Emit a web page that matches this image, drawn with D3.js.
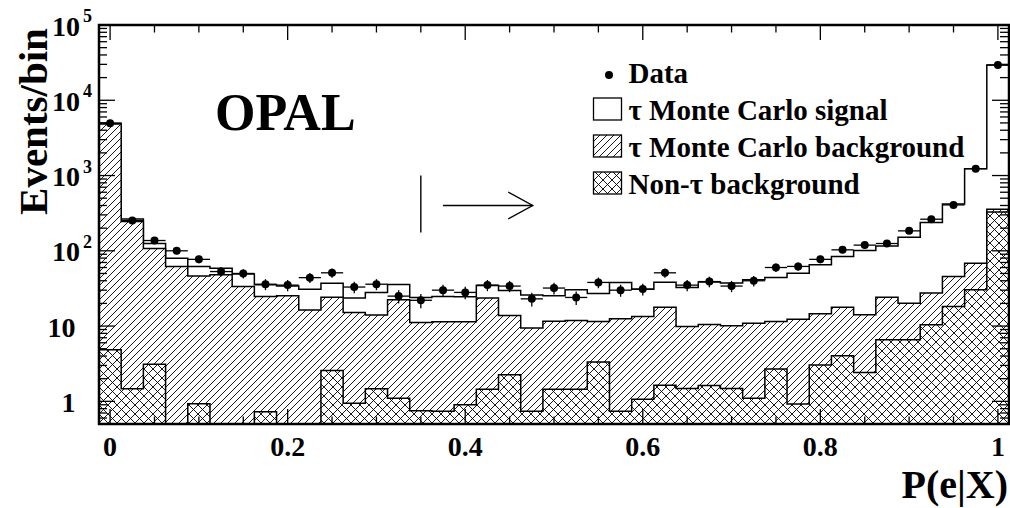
<!DOCTYPE html>
<html><head><meta charset="utf-8">
<script src="https://cdn.jsdelivr.net/npm/d3@7"></script>
<style>
body{margin:0;background:#fff;}
text{font-family:"Liberation Serif","Times New Roman",serif;font-weight:bold;fill:#000;}
</style>
</head><body>
<svg id="c" width="1010" height="508"></svg>
<script>
// ---- data ----
const binWidth = 0.025;
const binCenters = [0,0.025,0.05,0.075,0.1,0.125,0.15,0.175,0.2,0.225,0.25,0.275,0.3,0.325,0.35,0.375,0.4,0.425,0.45,0.475,0.5,0.525,0.55,0.575,0.6,0.625,0.65,0.675,0.7,0.725,0.75,0.775,0.8,0.825,0.85,0.875,0.9,0.925,0.95,0.975,1.0];
const nonTau = [4.83,1.47,3.12,0,0.93,0,0,0.73,0,0,2.56,0.94,1.47,1.10,0.75,0.74,0.90,1.45,2.25,0.74,1.45,1.45,3.32,0.74,1.07,1.63,1.48,1.62,1.48,1.10,2.68,0.92,3.05,4.02,2.41,6.56,6.56,10.4,18.2,30.3,329];
const tauBg = [4845,244,104.5,61.7,45.5,47.9,33.5,23.9,25.2,16.4,21.6,14.2,12.6,21.2,10.4,10.7,10.5,22.1,11.6,8.7,10.1,10.4,8.2,11.8,12.3,16.2,8.4,8.9,8.6,9.8,8.8,11.4,11.5,13.8,11.7,17.6,13.5,17.0,27.2,38.1,28];
const signal = [100,19.3,17.8,18.1,15.3,10.8,15.8,10.7,9.0,14.5,12.9,8.4,13.8,13.3,12.8,13.2,13.2,11.0,15.8,16.5,13.7,18.5,15.5,25.3,17.5,20.5,22.7,28.1,27.4,30.2,32.6,38.1,50.5,65.9,86.5,91.8,131.4,209.7,374.6,1166.6,29073];
const dataCounts = [4950,252,137,100,77,53,50,36,35,44,51,33,36,25,22,30,28,35,34,23,32,24,38,30,31,51,35,39,34,40,60,62,77,103,119,125,184,263,407,1235,29400];

const xTickValues = [0,0.2,0.4,0.6,0.8,1];
const xTickLabels = ["0","0.2","0.4","0.6","0.8","1"];
const xMinorStep = 0.05;
const yTickValues = [1,10,100,1000,10000,100000];
const yTickLabels = [["1",""],["10",""],["10","2"],["10","3"],["10","4"],["10","5"]];
const legendLabels = ["Data","\u03c4 Monte Carlo signal","\u03c4 Monte Carlo background","Non-\u03c4 background"];
const cutValue = 0.35;
const cutRange = [175,1000];
const arrowX = [0.375,0.476];
const arrowY = 400;

// ---- setup ----
const svg = d3.select("#c");
const m = {l:99, r:1009, t:25, b:424};
const x = d3.scaleLinear().domain([-0.0125,1.0125]).range([m.l,m.r]);
const y = d3.scaleLog().domain([0.5,1e5]).range([m.b,m.t]);

const defs = svg.append("defs");
const ph = defs.append("pattern").attr("id","hatch").attr("patternUnits","userSpaceOnUse").attr("width",7).attr("height",7);
ph.append("rect").attr("width",7).attr("height",7).attr("fill","#fff");
ph.append("path").attr("d","M-1,1L1,-1M0,7L7,0M6,8L8,6").attr("stroke","#000").attr("stroke-width",0.9);
const px = defs.append("pattern").attr("id","xhatch").attr("patternUnits","userSpaceOnUse").attr("width",9).attr("height",9);
px.append("rect").attr("width",9).attr("height",9).attr("fill","#fff");
px.append("path").attr("d","M-1,1L1,-1M0,9L9,0M8,10L10,8M0,0L9,9M-1,8L1,10M8,-1L10,1").attr("stroke","#000").attr("stroke-width",0.9);
defs.append("clipPath").attr("id","clip").append("rect").attr("x",m.l).attr("y",m.t).attr("width",m.r-m.l).attr("height",m.b-m.t);

const cumC = nonTau.slice();
const cumH = nonTau.map((v,i)=>v+tauBg[i]);
const cumT = cumH.map((v,i)=>v+signal[i]);

function yv(v){ return v>0.5 ? y(v) : m.b; }
function stepPath(vals){
  const hw = binWidth/2;
  let p = `M${x(binCenters[0]-hw)},${m.b}`;
  vals.forEach((v,i)=>{ const yy=yv(v); p += `L${x(binCenters[i]-hw)},${yy}L${x(binCenters[i]+hw)},${yy}`; });
  p += `L${x(binCenters[binCenters.length-1]+hw)},${m.b}Z`;
  return p;
}

const g = svg.append("g").attr("clip-path","url(#clip)");
g.append("path").attr("d",stepPath(cumT)).attr("fill","#fff").attr("stroke","#000").attr("stroke-width",1.5);
g.append("path").attr("d",stepPath(cumH)).attr("fill","url(#hatch)").attr("stroke","#000").attr("stroke-width",1.5);
g.append("path").attr("d",stepPath(cumC)).attr("fill","url(#xhatch)").attr("stroke","#000").attr("stroke-width",1.5);

// data points
const dp = g.append("g");
binCenters.forEach((c,i)=>{
  const d = dataCounts[i], e = Math.sqrt(d);
  dp.append("line").attr("x1",x(c-binWidth/2)).attr("x2",x(c+binWidth/2)).attr("y1",y(d)).attr("y2",y(d)).attr("stroke","#000").attr("stroke-width",1.3);
  dp.append("line").attr("x1",x(c)).attr("x2",x(c)).attr("y1",y(d+e)).attr("y2",y(Math.max(d-e,0.5))).attr("stroke","#000").attr("stroke-width",1.3);
  dp.append("circle").attr("cx",x(c)).attr("cy",y(d)).attr("r",4).attr("fill","#000");
});

// frame
svg.append("rect").attr("x",m.l).attr("y",m.t).attr("width",m.r-m.l).attr("height",m.b-m.t).attr("fill","none").attr("stroke","#000").attr("stroke-width",2.5);

// x ticks
const axg = svg.append("g").attr("stroke","#000").attr("stroke-width",1.3);
const xMinor = d3.range(0, 1+1e-9, xMinorStep);
xMinor.forEach(v=>{
  const major = xTickValues.some(t=>Math.abs(t-v)<1e-9);
  const L = major?15:7.5;
  axg.append("line").attr("x1",x(v)).attr("x2",x(v)).attr("y1",m.b).attr("y2",m.b-L);
  axg.append("line").attr("x1",x(v)).attr("x2",x(v)).attr("y1",m.t).attr("y2",m.t+L);
});
xTickValues.forEach((v,i)=>{
  svg.append("text").attr("x",x(v)).attr("y",456).attr("text-anchor","middle").attr("font-size",28).text(xTickLabels[i]);
});

// y ticks
const yMinor = [];
[0.1,1,10,100,1000,10000].forEach(dec=>{ for(let k=2;k<=9;k++){ const v=k*dec; if(v>=0.5 && v<1e5) yMinor.push(v);} });
yMinor.forEach(v=>{
  axg.append("line").attr("x1",m.l).attr("x2",m.l+8).attr("y1",y(v)).attr("y2",y(v));
  axg.append("line").attr("x1",m.r-1).attr("x2",m.r-9).attr("y1",y(v)).attr("y2",y(v));
});
yTickValues.forEach((v,i)=>{
  axg.append("line").attr("x1",m.l).attr("x2",m.l+16).attr("y1",y(v)).attr("y2",y(v));
  axg.append("line").attr("x1",m.r-1).attr("x2",m.r-17).attr("y1",y(v)).attr("y2",y(v));
  const [base,ex] = yTickLabels[i];
  if(ex){
    svg.append("text").attr("x",80).attr("y",y(v)+10.5).attr("text-anchor","end").attr("font-size",28).text(base);
    svg.append("text").attr("x",83).attr("y",y(v)-3).attr("text-anchor","start").attr("font-size",18).text(ex);
  } else {
    svg.append("text").attr("x",75.5).attr("y",y(v)+11).attr("text-anchor","end").attr("font-size",28).text(base);
  }
});

// titles
svg.append("text").attr("transform","translate(47,121.5) rotate(-90)").attr("text-anchor","middle").attr("font-size",41).text("Events/bin");
svg.append("text").attr("x",1008).attr("y",498).attr("text-anchor","end").attr("font-size",40).text("P(e|X)");
svg.append("text").attr("x",215).attr("y",129.5).attr("font-size",52).text("OPAL");

// cut annotation
const an = svg.append("g").attr("stroke","#000").attr("stroke-width",1.4).attr("fill","none");
an.append("line").attr("x1",x(cutValue)).attr("x2",x(cutValue)).attr("y1",y(cutRange[1])).attr("y2",y(cutRange[0]));
an.append("line").attr("x1",x(arrowX[0])).attr("x2",x(arrowX[1])).attr("y1",y(arrowY)).attr("y2",y(arrowY));
an.append("path").attr("d",`M${x(arrowX[1])-24.5},${y(arrowY)-13.5}L${x(arrowX[1])},${y(arrowY)}L${x(arrowX[1])-24.5},${y(arrowY)+13.5}`);

// legend
const lg = svg.append("g");
const lx = 593.5, bw = 28, bh = 22, tx = 628.5;
const baselines = [83,120,157,194];
lg.append("circle").attr("cx",609).attr("cy",75).attr("r",4).attr("fill","#000");
const fills = ["#fff","url(#hatch)","url(#xhatch)"];
[1,2,3].forEach(j=>{
  lg.append("rect").attr("x",lx).attr("y",baselines[j]-bh).attr("width",bw).attr("height",bh).attr("fill",fills[j-1]).attr("stroke","#000").attr("stroke-width",1.3);
});
legendLabels.forEach((t,j)=>{
  lg.append("text").attr("x",tx).attr("y",baselines[j]).attr("font-size",29).text(t);
});
</script>
</body></html>
